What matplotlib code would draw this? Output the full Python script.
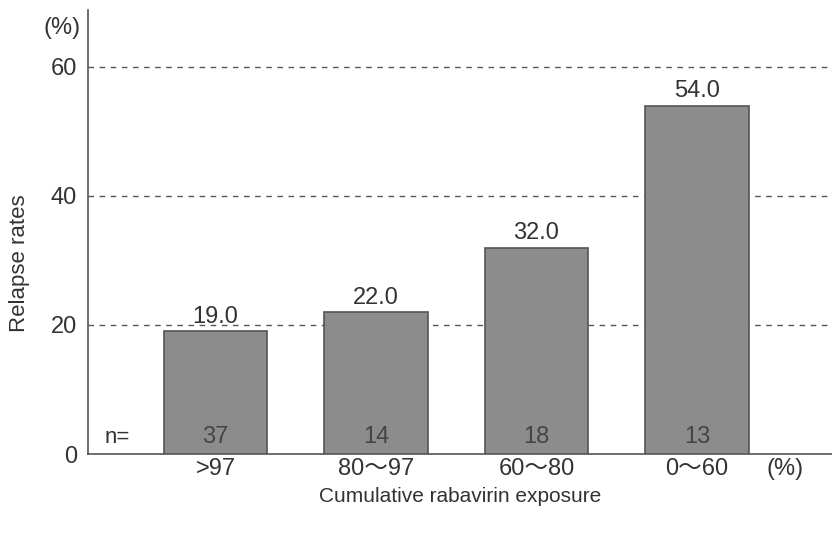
import numpy as np
import matplotlib
matplotlib.use("Agg")
import matplotlib.pyplot as plt

plt.rcParams['font.family'] = ['Liberation Sans', 'Noto Sans CJK JP']

# relapse rates by cumulative ribavirin exposure
groups = [">97", "80〜97", "60〜80", "0〜60"]
relapse = [19.0, 22.0, 32.0, 54.0]
n_pat = [37, 14, 18, 13]
yticks = [0, 20, 40, 60]

txt = "#333333"
fig = plt.figure(figsize=(8.32, 5.35), dpi=100)
ax = fig.add_axes([0.1058, 0.1514, 0.8942, 0.8296])

x = np.arange(len(groups))
ax.bar(x, relapse, width=0.642, color="#8c8c8c", edgecolor="#555555",
       linewidth=1.2, zorder=3)

for xi, v, n in zip(x, relapse, n_pat):
    ax.text(xi, v + 0.5, f"{v:.1f}", ha="center", va="bottom",
            fontsize=17, color=txt)
    ax.text(xi, 0.9, str(n), ha="center", va="bottom",
            fontsize=17, color="#454545", zorder=4)

ax.text(-0.61, 0.9, "n=", ha="center", va="bottom", fontsize=16, color=txt)

ax.set_xlim(-0.794, 3.841)
ax.set_ylim(0, 68.8)
ax.set_yticks(yticks)
ax.set_yticklabels([str(t) for t in yticks], fontsize=17, color=txt)
ax.set_xticks(list(x) + [3.55])
ax.set_xticklabels(groups + ["(%)"], fontsize=17, color=txt)
ax.tick_params(length=0)
ax.tick_params(axis="x", pad=3)
ax.tick_params(axis="y", pad=8)

for t in yticks[1:]:
    ax.axhline(t, color="#555555", linestyle=(0, (4, 4)), linewidth=1.0, zorder=1)

for s in ["top", "right"]:
    ax.spines[s].set_visible(False)
for s in ["left", "bottom"]:
    ax.spines[s].set_color("#555555")
    ax.spines[s].set_linewidth(1.2)

ax.text(-0.01, 0.96, "(%)", transform=ax.transAxes, ha="right", va="center",
        fontsize=17, color=txt)
ax.set_ylabel("Relapse rates", fontsize=16, color=txt)
ax.yaxis.set_label_coords(-0.078, 0.43)
ax.set_xlabel("Cumulative rabavirin exposure", fontsize=15, color=txt, labelpad=5)

fig.savefig("out.png", dpi=100)
